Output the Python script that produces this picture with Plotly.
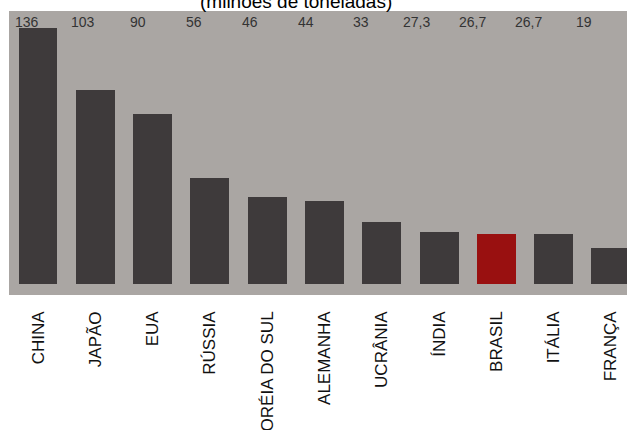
import plotly.graph_objects as go

categories = ["CHINA", "JAPÃO", "EUA", "RÚSSIA", "CORÉIA DO SUL", "ALEMANHA",
              "UCRÂNIA", "ÍNDIA", "BRASIL", "ITÁLIA", "FRANÇA"]
values = [136, 103, 90, 56, 46, 44, 33, 27.3, 26.7, 26.7, 19]
value_labels = ["136", "103", "90", "56", "46", "44", "33", "27,3", "26,7", "26,7", "19"]
highlight = "BRASIL"

dark = "#3e3a3b"
red = "#991010"
panel = "#aaa6a3"

colors = [red if c == highlight else dark for c in categories]
idx = list(range(len(categories)))

fig = go.Figure()
fig.add_trace(go.Bar(
    x=idx, y=values, marker=dict(color=colors, line=dict(width=0)),
    width=0.68, hoverinfo="skip",
))

# value labels sit on their own evenly spaced row (slightly tighter than bars)
for i, lab in zip(idx, value_labels):
    fig.add_annotation(
        x=i, y=1, xref="x2", yref="paper", yanchor="top", xanchor="center",
        text=lab, showarrow=False, yshift=-1,
        font=dict(family="Liberation Sans Narrow, Arial, sans-serif", size=14, color="#333333"),
    )

fig.add_annotation(
    x=0.465, y=1, xref="paper", yref="paper", yanchor="bottom", xanchor="center",
    text="(milhões de toneladas)", showarrow=False, yshift=-3,
    font=dict(family="Arial, Liberation Sans, sans-serif", size=19, color="#000000"),
)

fig.update_layout(
    width=627, height=430,
    margin=dict(l=9, r=0, t=11, b=135),
    paper_bgcolor="white", plot_bgcolor=panel,
    showlegend=False,
    bargap=0,
    xaxis2=dict(overlaying="x", range=[-0.323, 10.772], visible=False, matches=None),
)
fig.update_xaxes(
    selector=dict(anchor="y"),
)
fig.update_layout(xaxis=dict(
    range=[-0.506, 10.28], tickmode="array", tickvals=idx, ticktext=categories,
    tickangle=-90, ticks="", showgrid=False, zeroline=False, showline=False,
    ticklabelstandoff=12, automargin=False,
    tickfont=dict(family="Liberation Sans, Arial, sans-serif", size=17, color="#111111"),
))
fig.update_yaxes(range=[-6, 145], visible=False, showgrid=False, zeroline=False, automargin=False)

fig.write_html("out.html")
